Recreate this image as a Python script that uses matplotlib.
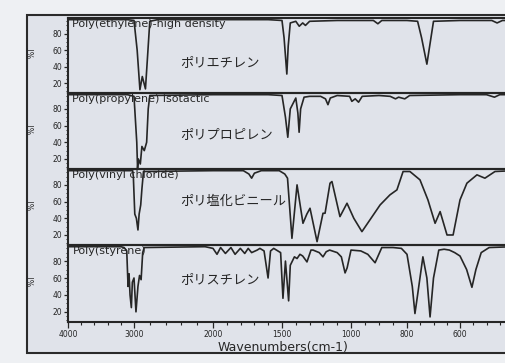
import numpy as np
import matplotlib
matplotlib.use("Agg")
import matplotlib.pyplot as plt
from matplotlib.patches import Rectangle
from matplotlib.ticker import FixedLocator, MultipleLocator, NullFormatter, FixedFormatter

plt.rcParams['font.family'] = ['DejaVu Sans', 'Noto Sans CJK JP']

# ---------------- data ----------------
titles = ["Poly(ethylene)-high density", "Poly(propylene) isotactic",
          "Poly(vinyl chloride)", "Poly(styrene)"]
jp_names = ["ポリエチレン", "ポリプロピレン", "ポリ塩化ビニール", "ポリスチレン"]

x_major = [4000, 3000, 2000, 1500, 1000, 800, 600]
x_major_labels = ["4000", "3000", "2000", "1500", "1000", "800", "600"]
y_major = [20, 40, 60, 80]

pe_wn = [4000, 3100, 3000, 2960, 2925, 2895, 2855, 2830, 2800, 2700, 2000, 1600,
         1500, 1485, 1465, 1455, 1440, 1400, 1375, 1350, 1330, 1300, 1100,
         920, 904, 890, 800, 760, 745, 725, 712, 700, 600, 480, 460, 440, 400]
pe_t = [97, 97, 96, 60, 12, 28, 13, 50, 95, 97, 97, 97,
        96, 75, 31, 65, 93, 95, 89, 93, 90, 95, 96,
        96, 92, 96, 96, 95, 75, 43, 70, 95, 96, 96, 93, 96, 96]

pp_wn = [4000, 3100, 3000, 2965, 2955, 2945, 2920, 2900, 2870, 2840, 2820, 2800,
         2000, 1600, 1500, 1475, 1458, 1440, 1400, 1385, 1376, 1365, 1340, 1300,
         1220, 1185, 1167, 1150, 1100, 1010, 997, 985, 973, 960, 900, 860, 841, 830,
         808, 790, 600, 500, 470, 450, 400]
pp_t = [97, 97, 95, 40, 9, 20, 14, 35, 30, 40, 80, 96,
        97, 97, 96, 70, 46, 80, 93, 75, 52, 80, 94, 95,
        95, 92, 85, 93, 96, 95, 89, 92, 88, 95, 96, 95, 92, 94,
        92, 96, 97, 97, 94, 97, 97]

pvc_wn = [4000, 3100, 3020, 3010, 2990, 2970, 2950, 2935, 2915, 2900, 2880, 2000,
          1780, 1740, 1720, 1700, 1650, 1520, 1480, 1460, 1428, 1391, 1348, 1320,
          1297, 1246, 1203, 1188, 1152, 1138, 1080, 1029, 990, 961, 896, 861, 836,
          814, 789, 751, 721, 694, 675, 649, 626, 600, 574, 536, 506, 468, 400]
pvc_t = [97, 97, 97, 90, 45, 40, 26, 45, 56, 75, 96, 97,
         97, 93, 88, 94, 97, 97, 93, 88, 16, 80, 34, 45,
         52, 12, 46, 46, 82, 84, 42, 58, 40, 24, 56, 68, 74,
         96, 96, 86, 62, 34, 48, 20, 20, 62, 82, 92, 88, 96, 97]

ps_wn = [4000, 3200, 3150, 3110, 3090, 3075, 3060, 3040, 3025, 3000, 2975, 2950,
         2930, 2910, 2890, 2870, 2100, 2000, 1971, 1945, 1910, 1870, 1840, 1802,
         1770, 1745, 1720, 1680, 1660, 1630, 1601, 1583, 1560, 1510, 1493, 1475,
         1452, 1440, 1410, 1391, 1370, 1350, 1319, 1290, 1275, 1230, 1203, 1180,
         1155, 1100, 1070, 1043, 1028, 1000, 965, 940, 914, 890, 850, 820, 800,
         780, 770, 760, 740, 725, 713, 700, 680, 660, 640, 620, 600, 575, 555,
         540, 520, 490, 400]
ps_t = [97, 97, 96, 92, 50, 65, 40, 25, 55, 60, 20, 50,
        63, 58, 90, 96, 97, 95, 88, 96, 89, 96, 88, 95,
        89, 95, 90, 93, 95, 92, 60, 92, 95, 90, 36, 80,
        33, 75, 85, 83, 88, 86, 79, 93, 93, 90, 85, 91,
        93, 90, 85, 66, 72, 93, 92, 88, 78, 96, 96, 95, 88,
        50, 18, 40, 85, 60, 14, 60, 93, 94, 93, 90, 86, 70, 49,
        70, 90, 96, 97]

series_wn = [pe_wn, pp_wn, pvc_wn, ps_wn]
series_t = [pe_t, pp_t, pvc_t, ps_t]

# ---------------- layout ----------------
W, H = 506, 363
fig = plt.figure(figsize=(W / 100, H / 100), dpi=100)
fig.patch.set_facecolor('#eef0f3')

# outer frame (drawn behind the axes)
frame = Rectangle((27 / W, 1 - 353 / H), (560 - 27) / W, (353 - 15) / H,
                  transform=fig.transFigure, facecolor='#e0e3ea', edgecolor='#2b2b2b',
                  linewidth=1.5, clip_on=False, zorder=-5)
fig.patches.append(frame)

# piecewise wavenumber -> position mapping of the chart paper (monotonic increasing)
anchor_wn = [400, 600, 800, 1000, 1500, 2000, 3000, 4000]
anchor_pos = [-513, -460, -407, -351, -282, -213, -134, -68]

def fwd(w):
    return np.interp(np.asarray(w, dtype=float), anchor_wn, anchor_pos)

def inv(p):
    return np.interp(np.asarray(p, dtype=float), anchor_pos, anchor_wn)

tops = [18, 93, 169, 245]
bottoms = [93, 169, 245, 322]
ax_left = 68
ax_right = 513
ink = '#262626'

minor_x = list(range(3800, 2000, -200)) + list(range(1900, 1000, -100)) + list(range(950, 400, -50))

for i in range(4):
    ax = fig.add_axes([ax_left / W, 1 - bottoms[i] / H,
                       (ax_right - ax_left) / W, (bottoms[i] - tops[i]) / H])
    ax.set_facecolor('none')
    ax.set_xscale('function', functions=(fwd, inv))
    ax.set_xlim(4000, 400)
    ax.set_ylim(8, 99)
    ax.plot(series_wn[i], series_t[i], color=ink, linewidth=1.2)
    for s in ax.spines.values():
        s.set_color(ink)
        s.set_linewidth(1.5)
    ax.spines['right'].set_visible(False)
    ax.yaxis.set_major_locator(FixedLocator(y_major))
    ax.yaxis.set_minor_locator(MultipleLocator(5))
    ax.tick_params(axis='y', which='major', direction='out', length=3, width=0.9,
                   labelsize=5.5, pad=1, colors=ink)
    ax.tick_params(axis='y', which='minor', direction='out', length=1.8, width=0.7, colors=ink)
    if i == 3:
        ax.xaxis.set_major_locator(FixedLocator(x_major))
        ax.xaxis.set_major_formatter(FixedFormatter(x_major_labels))
        ax.xaxis.set_minor_locator(FixedLocator(minor_x))
        ax.xaxis.set_minor_formatter(NullFormatter())
        ax.tick_params(axis='x', which='major', direction='out', length=4, width=0.9,
                       labelsize=5.5, pad=2, colors=ink)
        ax.tick_params(axis='x', which='minor', direction='out', length=2.5, width=0.8, colors=ink)
    else:
        ax.xaxis.set_major_locator(FixedLocator([]))
        ax.xaxis.set_minor_locator(FixedLocator([]))
    ax.text(0.01, 0.99, titles[i], transform=ax.transAxes, ha='left', va='top',
            fontsize=8, color=ink)
    ax.text((180 - ax_left) / (ax_right - ax_left), [0.40, 0.46, 0.58, 0.55][i],
            jp_names[i], transform=ax.transAxes, ha='left', va='center',
            fontsize=9.5, color=ink, family=['Noto Sans CJK JP', 'DejaVu Sans'])
    fig.text(32 / W, 1 - ((tops[i] + bottoms[i]) / 2 - 3) / H, '%T', rotation=90,
             ha='center', va='center', fontsize=5.5, color=ink)

fig.text(283 / W, 1 - 348 / H, 'Wavenumbers(cm-1)', ha='center', va='center',
         fontsize=9, color=ink)

fig.savefig('out.png', dpi=100, facecolor=fig.get_facecolor())
